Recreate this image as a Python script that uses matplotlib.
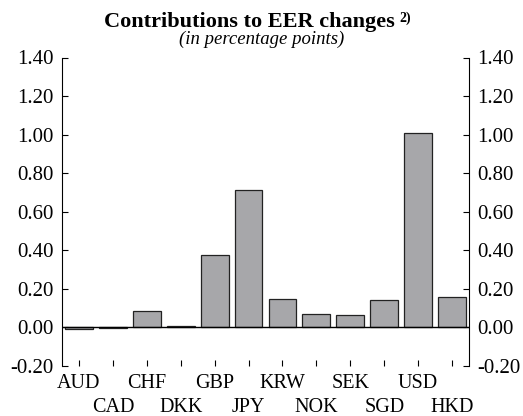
import matplotlib
matplotlib.use("Agg")
import matplotlib.pyplot as plt

categories = ["AUD", "CAD", "CHF", "DKK", "GBP", "JPY", "KRW", "NOK", "SEK", "SGD", "USD", "HKD"]
values = [-0.01, -0.005, 0.087, 0.005, 0.377, 0.713, 0.148, 0.069, 0.066, 0.144, 1.008, 0.157]
yticks = [-0.20, 0.00, 0.20, 0.40, 0.60, 0.80, 1.00, 1.20, 1.40]

plt.rcParams['font.family'] = ['Liberation Serif', 'DejaVu Serif']

fig = plt.figure(figsize=(5.23, 4.16), dpi=100)
ax = fig.add_axes([62/523, 1-366/416, (469-62)/523, (366-57.5)/416])

x = list(range(len(categories)))
ax.bar(x, values, width=0.82, color="#a7a7aa", edgecolor="#222222", linewidth=0.9, zorder=2)
ax.axhline(0, color="black", linewidth=1.0, zorder=3)

ax.set_xlim(-0.5, len(categories) - 0.5)
ax.set_ylim(-0.20, 1.40)
ax.set_yticks(yticks)
ax.set_yticklabels([f"{v:.2f}" for v in yticks])
ax.tick_params(axis='y', direction='in', length=4, width=0.8, labelsize=15, pad=6,
               left=True, right=True, labelleft=True, labelright=True)

even = x[0::2]
odd = x[1::2]
ax.set_xticks(even)
ax.set_xticklabels(categories[0::2])
ax.set_xticks(odd, minor=True)
ax.set_xticklabels(categories[1::2], minor=True)
ax.tick_params(axis='x', which='major', direction='in', length=4, width=0.8, labelsize=14.5, pad=6)
ax.tick_params(axis='x', which='minor', direction='in', length=4, width=0.8, labelsize=14.5, pad=23)
for s in ["top", "bottom"]:
    ax.spines[s].set_visible(False)
for s in ["left", "right"]:
    ax.spines[s].set_linewidth(0.8)

title = fig.text(0.5 - 12/523, 1-27/416, "Contributions to EER changes", ha="center", va="baseline",
                 fontsize=16, fontweight="bold")
fig.canvas.draw()
bb = title.get_window_extent()
fig.text((bb.x1 + 5)/523, 1-22/416, "2)", ha="left", va="baseline",
         fontsize=10, fontweight="bold")
fig.text(0.5, 1-39/416, "(in percentage points)", ha="center", va="center",
         fontsize=13.5, style="italic")

fig.savefig("out.png", dpi=100)
